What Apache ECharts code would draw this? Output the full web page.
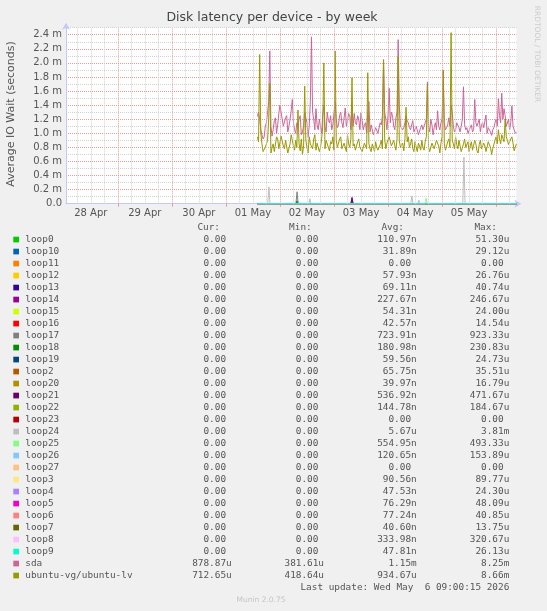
<!DOCTYPE html>
<html>
<head>
<meta charset="utf-8">
<title>Disk latency per device - by week</title>
<script src="https://cdn.jsdelivr.net/npm/echarts@6.0.0/dist/echarts.min.js"></script>
<style>
  html, body { margin: 0; padding: 0; background: #f0f0f0; }
  #chart { width: 547px; height: 611px; }
</style>
</head>
<body>
<div id="chart"></div>
<script>
// x values are hours since 28 Apr 00:00, one sample per half hour from 01 May 14:00
const firstHour = 86
const stepHours = 0.5

// values in milliseconds
const sdaMs = [
  1.24, 1.30, 1.20, 1.05, 0.98, 0.92, 0.95, 1.10, 1.15, 1.30,
  1.45, 2.17, 1.10, 0.96, 1.05, 1.18, 1.22, 1.00, 1.12, 1.28,
  1.40, 1.41, 1.20, 1.10, 1.08, 1.22, 1.25, 1.02, 1.10, 1.20,
  1.32, 1.48, 1.15, 1.05, 1.00, 1.15, 1.12, 1.20, 1.25, 0.98,
  1.02, 1.10, 1.30, 1.22, 1.15, 0.95, 1.10, 1.45, 2.37, 1.30,
  1.20, 1.05, 1.35, 1.12, 1.05, 1.20, 1.18, 1.00, 1.25, 1.40,
  1.10, 1.02, 1.30, 1.18, 1.15, 1.25, 1.05, 1.12, 1.28, 1.45,
  1.20, 1.08, 1.12, 1.25, 1.30, 1.15, 1.08, 1.22, 1.36, 1.10,
  1.18, 1.28, 1.25, 1.05, 1.40, 1.10, 1.28, 1.15, 1.12, 1.25,
  1.20, 1.05, 1.29, 1.18, 1.05, 1.12, 1.15, 1.00, 1.30, 1.45,
  1.02, 1.12, 1.10, 0.98, 0.98, 1.08, 1.08, 1.00, 1.00, 1.15,
  1.12, 1.25, 2.05, 1.30, 1.20, 1.05, 1.25, 1.64, 1.15, 1.30,
  1.25, 1.10, 1.05, 1.22, 1.30, 2.33, 1.40, 1.10, 1.10, 1.05,
  1.08, 1.15, 1.25, 1.18, 1.15, 1.08, 1.05, 1.12, 1.18, 1.02,
  1.00, 1.10, 1.10, 0.98, 0.98, 1.08, 1.12, 1.05, 1.05, 1.15,
  1.20, 1.73, 1.10, 1.02, 1.20, 1.12, 0.98, 1.08, 1.15, 1.05,
  1.32, 1.10, 1.05, 1.15, 1.20, 1.88, 1.15, 1.05, 1.08, 1.12,
  1.22, 1.10, 1.40, 1.30, 1.10, 1.02, 1.05, 1.15, 1.15, 1.08,
  1.02, 1.10, 1.20, 1.66, 1.12, 1.05, 1.08, 1.00, 1.00, 1.08,
  1.12, 1.02, 1.05, 1.48, 1.15, 1.10, 1.10, 1.20, 1.02, 1.12,
  1.15, 1.08, 1.10, 1.26, 1.00, 1.08, 1.10, 1.02, 0.97, 1.05,
  1.08, 1.15, 1.20, 1.10, 1.49, 1.25, 1.15, 1.57, 1.20, 1.35,
  1.25, 1.10, 1.10, 1.20, 1.05, 1.15, 1.39, 1.10, 1.08, 1.00,
  1.02
]
const lvMs = [
  0.95, 0.88, 2.12, 1.00, 0.85, 0.74, 0.72, 0.80, 0.78, 0.90,
  1.20, 1.71, 0.72, 0.80, 0.85, 0.74, 0.75, 0.95, 0.92, 0.78,
  0.80, 0.96, 0.95, 0.82, 0.78, 0.90, 0.88, 0.72, 0.74, 0.85,
  0.98, 0.90, 0.82, 0.76, 0.90, 0.80, 1.33, 0.85, 0.75, 0.92,
  0.70, 0.82, 1.67, 0.90, 0.80, 0.72, 0.95, 0.85, 0.85, 0.78,
  0.92, 0.98, 0.76, 0.86, 0.88, 0.74, 0.80, 0.92, 1.10, 2.00,
  0.78, 0.90, 0.92, 0.80, 0.75, 0.88, 0.85, 0.95, 0.76, 2.17,
  0.90, 0.80, 0.82, 0.92, 0.95, 0.78, 0.78, 0.86, 0.88, 0.74,
  0.98, 0.85, 0.80, 0.92, 1.79, 0.82, 0.85, 0.76, 0.76, 0.88,
  0.92, 0.80, 0.80, 0.74, 0.75, 0.86, 0.88, 0.78, 1.86, 0.85,
  0.78, 0.74, 0.85, 0.80, 0.74, 0.88, 0.80, 0.76, 0.76, 0.84,
  0.90, 0.78, 2.04, 0.92, 0.78, 0.86, 0.85, 0.95, 0.95, 0.82,
  0.80, 0.90, 0.88, 0.76, 0.92, 2.09, 0.90, 0.80, 0.80, 0.86,
  0.75, 0.92, 1.37, 0.88, 0.95, 0.80, 0.85, 0.92, 0.78, 0.74,
  0.88, 0.80, 0.74, 0.86, 0.82, 0.76, 0.90, 0.80, 0.76, 0.88,
  0.95, 1.69, 0.80, 0.74, 0.74, 0.86, 0.85, 0.78, 0.78, 0.90,
  0.90, 0.82, 0.72, 0.86, 0.95, 1.90, 0.85, 0.76, 0.78, 0.88,
  0.92, 0.80, 2.43, 0.90, 0.85, 0.78, 0.95, 0.84, 0.78, 0.90,
  0.88, 0.74, 0.76, 0.85, 0.92, 0.80, 0.80, 0.88, 0.74, 0.82,
  0.88, 0.76, 0.78, 0.90, 0.85, 0.75, 0.72, 0.84, 0.90, 0.78,
  0.76, 0.86, 0.82, 0.74, 0.74, 0.88, 0.88, 0.80, 0.70, 0.78,
  0.80, 0.90, 0.95, 0.85, 1.05, 0.92, 0.85, 0.98, 0.98, 0.88,
  1.20, 0.95, 0.90, 0.84, 0.82, 0.92, 0.95, 0.86, 0.75, 0.80,
  0.85
]

// loop devices sit at zero except for a few short peaks [hour, ms]
const loop24Peaks = [[91.1, 0.24], [109.3, 0.07], [119.1, 0.02], [121.3, 0.01], [130.2, 0.02], [154.6, 0.11], [157.7, 0.05], [177.7, 0.66]]
const loop17Peaks = [[103.6, 0.17]]
const loop18Peaks = [[103.6, 0.04]]
const loop5Peaks = [[103.6, 0.02]]
const loop21Peaks = [[128.0, 0.09]]
const loop14Peaks = [[128.0, 0.06]]
const loop25Peaks = [[160.9, 0.08]]
const loop8Peaks = [[160.9, 0.04], [199.5, 0.02]]

const names = ['loop0', 'loop10', 'loop11', 'loop12', 'loop13', 'loop14', 'loop15', 'loop16', 'loop17', 'loop18',
  'loop19', 'loop2', 'loop20', 'loop21', 'loop22', 'loop23', 'loop24', 'loop25', 'loop26', 'loop27',
  'loop3', 'loop4', 'loop5', 'loop6', 'loop7', 'loop8', 'loop9', 'sda', 'ubuntu-vg/ubuntu-lv']
const colors = ['#00CC00', '#0066B3', '#FF8000', '#FFCC00', '#330099', '#990099', '#CCFF00', '#FF0000', '#808080', '#008F00',
  '#00487D', '#B35A00', '#B38F00', '#6B006B', '#8FB300', '#B30000', '#BEBEBE', '#80FF80', '#80C9FF', '#FFC080',
  '#FFE680', '#AA80FF', '#EE00CC', '#FF8080', '#666600', '#FFBFFF', '#00FFCC', '#CC6699', '#999900']
const curText = ['0.00', '0.00', '0.00', '0.00', '0.00', '0.00', '0.00', '0.00', '0.00', '0.00',
  '0.00', '0.00', '0.00', '0.00', '0.00', '0.00', '0.00', '0.00', '0.00', '0.00',
  '0.00', '0.00', '0.00', '0.00', '0.00', '0.00', '0.00', '878.87u', '712.65u']
const minText = ['0.00', '0.00', '0.00', '0.00', '0.00', '0.00', '0.00', '0.00', '0.00', '0.00',
  '0.00', '0.00', '0.00', '0.00', '0.00', '0.00', '0.00', '0.00', '0.00', '0.00',
  '0.00', '0.00', '0.00', '0.00', '0.00', '0.00', '0.00', '381.61u', '418.64u']
const avgText = ['110.97n', '31.89n', '0.00', '57.93n', '69.11n', '227.67n', '54.31n', '42.57n', '723.91n', '180.98n',
  '59.56n', '65.75n', '39.97n', '536.92n', '144.78n', '0.00', '5.67u', '554.95n', '120.65n', '0.00',
  '90.56n', '47.53n', '76.29n', '77.24n', '40.60n', '333.98n', '47.81n', '1.15m', '934.67u']
const maxText = ['51.30u', '29.12u', '0.00', '26.76u', '40.74u', '246.67u', '24.00u', '14.54u', '923.33u', '230.83u',
  '24.73u', '35.51u', '16.79u', '471.67u', '184.67u', '0.00', '3.81m', '493.33u', '153.89u', '0.00',
  '89.77u', '24.30u', '48.09u', '40.85u', '13.75u', '320.67u', '26.13u', '8.25m', '8.66m']

const dayLabels = ['28 Apr', '29 Apr', '30 Apr', '01 May', '02 May', '03 May', '04 May', '05 May']
const noonHours = [12, 36, 60, 84, 108, 132, 156, 180]
const midnightHours = [24, 48, 72, 96, 120, 144, 168, 192]

const peaksByName = {
  loop24: loop24Peaks, loop17: loop17Peaks, loop18: loop18Peaks, loop5: loop5Peaks,
  loop21: loop21Peaks, loop14: loop14Peaks, loop25: loop25Peaks, loop8: loop8Peaks
}

const hours = sdaMs.map((_, i) => firstHour + i * stepHours)
const lastHour = hours[hours.length - 1]

const majorColor = '#e49a9a'
const minorColor = '#d2d2d2'
const axisColor = '#c4c8f4'
const textColor = '#555'
const sans = 'DejaVu Sans'
const mono = 'DejaVu Sans Mono'

function loopData (peaks) {
  const out = [[firstHour, 0]]
  ;(peaks || []).forEach(function (p) {
    out.push([p[0] - 0.5, 0], [p[0], p[1]], [p[0] + 0.5, 0])
  })
  out.push([lastHour, 0])
  return out
}

// vertical grid: red at midnight, grey every 6 hours
const vGrid = []
for (let h = 6; h < 201; h += 6) {
  const major = midnightHours.indexOf(h) >= 0
  vGrid.push({
    xAxis: h,
    lineStyle: { color: major ? majorColor : minorColor, type: [1, 1], width: 1 }
  })
}

const series = names.map(function (name, i) {
  let data
  if (name === 'sda') data = hours.map((h, k) => [h, sdaMs[k]])
  else if (name === 'ubuntu-vg/ubuntu-lv') data = hours.map((h, k) => [h, lvMs[k]])
  else data = loopData(peaksByName[name])
  const s = {
    name: name,
    type: 'line',
    data: data,
    showSymbol: false,
    symbol: 'none',
    silent: true,
    clip: false,
    animation: false,
    lineStyle: { width: 1, color: colors[i] },
    emphasis: { disabled: true }
  }
  if (i === 0) {
    s.markLine = {
      silent: true,
      symbol: ['none', 'none'],
      label: { show: false },
      animation: false,
      emphasis: { disabled: true },
      data: vGrid
    }
  }
  return s
})

// munin style legend table
const graphic = []
const rowTop = 239.7
const rowStep = 12
const charW = 5.68
const cols = [
  { right: 231.7, head: 'Cur:', headRight: 220, vals: curText },
  { right: 324, head: 'Min:', headRight: 311.7, vals: minText },
  { right: 416.7, head: 'Avg:', headRight: 404, vals: avgText },
  { right: 509.3, head: 'Max:', headRight: 497, vals: maxText }
]
const legendFont = '9.4px "' + mono + '"'
cols.forEach(function (c) {
  graphic.push({ type: 'text', x: c.headRight, y: 228, silent: true,
    style: { text: c.head, fill: textColor, font: legendFont, textAlign: 'right', textVerticalAlign: 'middle' } })
})
names.forEach(function (name, i) {
  const y = rowTop + i * rowStep
  graphic.push({ type: 'rect', silent: true, shape: { x: 13.3, y: y - 3, width: 5.7, height: 5.7 }, style: { fill: colors[i] } })
  graphic.push({ type: 'text', x: 25.3, y: y, silent: true,
    style: { text: name, fill: textColor, font: legendFont, textAlign: 'left', textVerticalAlign: 'middle' } })
  cols.forEach(function (c) {
    const v = c.vals[i]
    const hasUnit = /[a-z]$/.test(v)
    graphic.push({ type: 'text', x: c.right - (hasUnit ? 0 : charW), y: y, silent: true,
      style: { text: v, fill: textColor, font: legendFont, textAlign: 'right', textVerticalAlign: 'middle' } })
  })
})
graphic.push({ type: 'text', x: 509.3, y: 588, silent: true,
  style: { text: 'Last update: Wed May  6 09:00:15 2026', fill: textColor, font: legendFont, textAlign: 'right', textVerticalAlign: 'middle' } })
graphic.push({ type: 'text', x: 261, y: 600, silent: true,
  style: { text: 'Munin 2.0.75', fill: '#c4c4c4', font: '7.5px "' + sans + '"', textAlign: 'center', textVerticalAlign: 'middle' } })
graphic.push({ type: 'text', x: 272, y: 18, silent: true,
  style: { text: 'Disk latency per device - by week', fill: '#444', font: '12.5px "' + sans + '"', textAlign: 'center', textVerticalAlign: 'middle' } })
graphic.push({ type: 'text', x: 11, y: 114, rotation: Math.PI / 2, silent: true,
  style: { text: 'Average IO Wait (seconds)', fill: textColor, font: '11px "' + sans + '"', textAlign: 'center', textVerticalAlign: 'middle' } })
graphic.push({ type: 'text', x: 537, y: 54, rotation: -Math.PI / 2, silent: true,
  style: { text: 'RRDTOOL / TOBI OETIKER', fill: '#cccccc', font: '7.5px "' + sans + '"', textAlign: 'center', textVerticalAlign: 'middle' } })

const chart = echarts.init(document.getElementById('chart'), null, { renderer: 'canvas' })
const option = {
  backgroundColor: '#f0f0f0',
  animation: false,
  grid: {
    left: 66, right: 30.6, top: 27.7, bottom: 407.3,
    show: true, backgroundColor: '#ffffff', borderWidth: 0,
    outerBoundsMode: 'none'
  },
  xAxis: {
    type: 'value',
    min: 1,
    max: 201,
    axisLine: {
      show: true,
      lineStyle: { color: axisColor, width: 1 },
      symbol: ['none', 'arrow'],
      symbolSize: [6, 7],
      symbolOffset: [0, 5]
    },
    axisTick: { show: true, customValues: midnightHours, length: 3, lineStyle: { color: majorColor } },
    axisLabel: {
      customValues: noonHours,
      color: textColor,
      fontFamily: sans,
      fontSize: 10,
      margin: 5,
      formatter: function (v) { return dayLabels[Math.round((v - 12) / 24)] }
    },
    splitLine: { show: false }
  },
  yAxis: {
    type: 'value',
    min: 0,
    max: 2.5,
    interval: 0.1,
    axisLine: {
      show: true,
      lineStyle: { color: axisColor, width: 1 },
      symbol: ['none', 'arrow'],
      symbolSize: [6, 7],
      symbolOffset: [0, 5]
    },
    axisTick: { show: false },
    axisLabel: {
      color: textColor,
      fontFamily: sans,
      fontSize: 10,
      margin: 4,
      formatter: function (v) {
        const k = Math.round(v * 10)
        if (k % 2) return ''
        return k === 0 ? '0.0' : (k / 10).toFixed(1) + ' m'
      }
    },
    splitLine: { show: true, lineStyle: { color: [majorColor, minorColor], type: [1, 1], width: 1 } }
  },
  series: series,
  graphic: graphic
}
chart.setOption(option, true)
</script>
</body>
</html>
